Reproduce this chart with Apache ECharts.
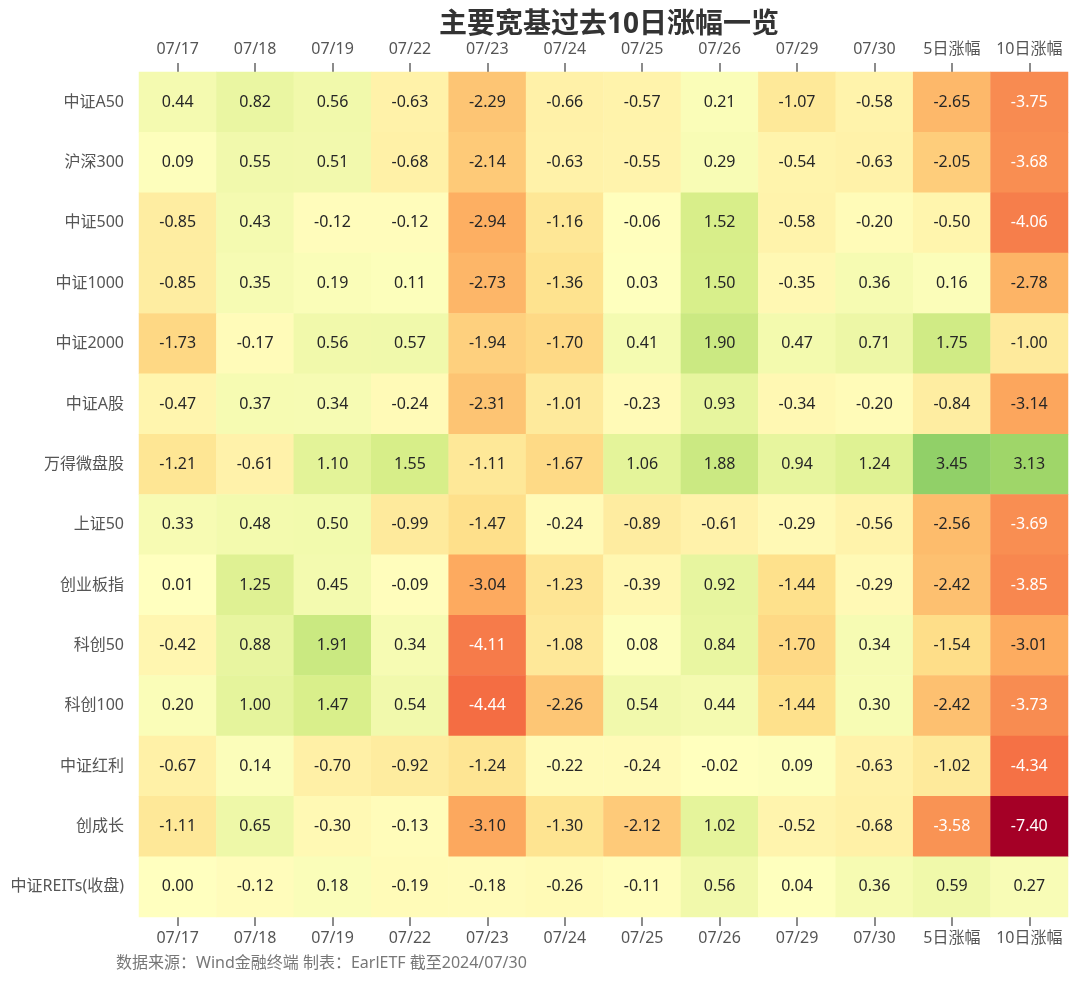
<!DOCTYPE html>
<html>
<head>
<meta charset="utf-8">
<script src="https://cdn.jsdelivr.net/npm/echarts@6/dist/echarts.min.js"></script>
<style>html,body{margin:0;padding:0;background:#fff;}#c{width:1080px;height:983px;}</style>
</head>
<body>
<div id="c"></div>
<script>
const title = '主要宽基过去10日涨幅一览';
const footnote = '数据来源：Wind金融终端 制表：EarlETF 截至2024/07/30';
const columns = ['07/17','07/18','07/19','07/22','07/23','07/24','07/25','07/26','07/29','07/30','5日涨幅','10日涨幅'];
const indices = ['中证A50','沪深300','中证500','中证1000','中证2000','中证A股','万得微盘股','上证50','创业板指','科创50','科创100','中证红利','创成长','中证REITs(收盘)'];
const r_a50    = [0.44, 0.82, 0.56, -0.63, -2.29, -0.66, -0.57, 0.21, -1.07, -0.58, -2.65, -3.75];
const r_hs300  = [0.09, 0.55, 0.51, -0.68, -2.14, -0.63, -0.55, 0.29, -0.54, -0.63, -2.05, -3.68];
const r_zz500  = [-0.85, 0.43, -0.12, -0.12, -2.94, -1.16, -0.06, 1.52, -0.58, -0.20, -0.50, -4.06];
const r_zz1000 = [-0.85, 0.35, 0.19, 0.11, -2.73, -1.36, 0.03, 1.50, -0.35, 0.36, 0.16, -2.78];
const r_zz2000 = [-1.73, -0.17, 0.56, 0.57, -1.94, -1.70, 0.41, 1.90, 0.47, 0.71, 1.75, -1.00];
const r_zzag   = [-0.47, 0.37, 0.34, -0.24, -2.31, -1.01, -0.23, 0.93, -0.34, -0.20, -0.84, -3.14];
const r_wdwp   = [-1.21, -0.61, 1.10, 1.55, -1.11, -1.67, 1.06, 1.88, 0.94, 1.24, 3.45, 3.13];
const r_sz50   = [0.33, 0.48, 0.50, -0.99, -1.47, -0.24, -0.89, -0.61, -0.29, -0.56, -2.56, -3.69];
const r_cybz   = [0.01, 1.25, 0.45, -0.09, -3.04, -1.23, -0.39, 0.92, -1.44, -0.29, -2.42, -3.85];
const r_kc50   = [-0.42, 0.88, 1.91, 0.34, -4.11, -1.08, 0.08, 0.84, -1.70, 0.34, -1.54, -3.01];
const r_kc100  = [0.20, 1.00, 1.47, 0.54, -4.44, -2.26, 0.54, 0.44, -1.44, 0.30, -2.42, -3.73];
const r_zzhl   = [-0.67, 0.14, -0.70, -0.92, -1.24, -0.22, -0.24, -0.02, 0.09, -0.63, -1.02, -4.34];
const r_ccz    = [-1.11, 0.65, -0.30, -0.13, -3.10, -1.30, -2.12, 1.02, -0.52, -0.68, -3.58, -7.40];
const r_reits  = [0.00, -0.12, 0.18, -0.19, -0.18, -0.26, -0.11, 0.56, 0.04, 0.36, 0.59, 0.27];
const rows = [r_a50, r_hs300, r_zz500, r_zz1000, r_zz2000, r_zzag, r_wdwp, r_sz50, r_cybz, r_kc50, r_kc100, r_zzhl, r_ccz, r_reits];

const FONT = '"Noto Sans", "Noto Sans CJK SC", sans-serif';
const data = [];
rows.forEach((row, yi) => {
  row.forEach((v, xi) => {
    data.push({ value: [xi, yi, v], label: { color: v <= -3.5 ? '#ffffff' : '#262626' } });
  });
});

const chart = echarts.init(document.getElementById('c'), null, { renderer: 'canvas' });
const xCommon = {
  type: 'category',
  data: columns,
  axisLine: { show: false },
  axisTick: { show: true, interval: 0, alignWithLabel: true, length: 9, lineStyle: { color: '#666', width: 1.5 } },
  axisLabel: { interval: 0, color: '#555', fontSize: 16, fontFamily: FONT },
  splitLine: { show: false }
};
chart.setOption({
  animation: false,
  backgroundColor: '#ffffff',
  title: {
    text: title,
    left: 604, top: 6, textAlign: 'center',
    textStyle: { fontSize: 28, fontWeight: 'bold', color: '#333', fontFamily: FONT }
  },
  graphic: [{
    type: 'text', left: 116, top: 955,
    style: { text: footnote, fill: '#777', fontSize: 16, fontFamily: FONT }
  }],
  grid: { left: 139, right: 12, top: 72, bottom: 66, containLabel: false },
  xAxis: [
    Object.assign({}, xCommon, { position: 'top', axisLabel: Object.assign({}, xCommon.axisLabel, { margin: 15 }) }),
    Object.assign({}, xCommon, { position: 'bottom', axisLabel: Object.assign({}, xCommon.axisLabel, { margin: 13 }) })
  ],
  yAxis: {
    type: 'category',
    data: indices,
    inverse: true,
    axisLine: { show: false },
    axisTick: { show: false },
    axisLabel: { interval: 0, color: '#555', fontSize: 16, fontFamily: FONT, margin: 15 },
    splitLine: { show: false }
  },
  visualMap: {
    show: false,
    min: -7.4, max: 7.4,
    dimension: 2,
    inRange: { color: ['#a50026','#d73027','#f46d43','#fdae61','#fee08b','#ffffbf','#d9ef8b','#a6d96a','#66bd63','#1a9850','#006837'] }
  },
  series: [{
    type: 'heatmap',
    xAxisIndex: 0,
    yAxisIndex: 0,
    data: data,
    label: {
      show: true,
      fontSize: 16,
      fontFamily: FONT,
      formatter: p => p.value[2].toFixed(2)
    },
    itemStyle: { borderWidth: 0 },
    emphasis: { disabled: true }
  }]
});
</script>
</body>
</html>
